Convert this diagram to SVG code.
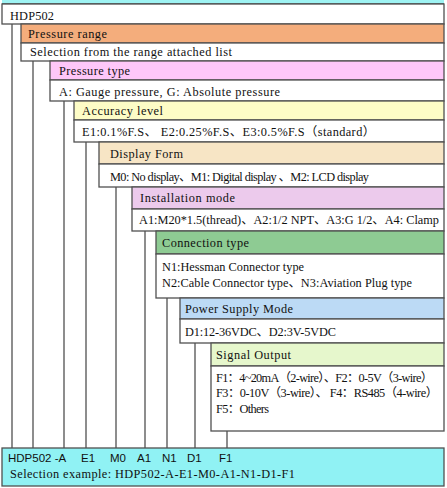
<svg xmlns="http://www.w3.org/2000/svg" width="447" height="488" viewBox="0 0 447 488">
<style>
.bx{stroke:#505050;stroke-width:1.3}
.w{fill:#ffffff}
.t{font-family:"Liberation Serif","Noto Sans CJK SC",serif;font-size:12.3px;fill:#111}
.s{font-family:"Liberation Sans",Arial,sans-serif;font-size:11.5px;fill:#111}
.ln{stroke:#505050;stroke-width:1.3;fill:none}
</style>
<rect x="0" y="0" width="447" height="488" fill="#ffffff"/>
<rect x="2" y="0" width="442" height="4" fill="#9ef3f3"/>
<line x1="2" y1="4" x2="444" y2="4" class="ln"/>

<g id="connectors">
<line class="ln" x1="12" y1="24" x2="12" y2="448"/>
<line class="ln" x1="33" y1="61" x2="33" y2="448"/>
<line class="ln" x1="64" y1="101" x2="64" y2="448"/>
<line class="ln" x1="86" y1="142" x2="86" y2="448"/>
<line class="ln" x1="116" y1="187" x2="116" y2="448"/>
<line class="ln" x1="145" y1="231" x2="145" y2="448"/>
<line class="ln" x1="167" y1="298" x2="167" y2="448"/>
<line class="ln" x1="195" y1="343" x2="195" y2="448"/>
<line class="ln" x1="227" y1="431" x2="227" y2="448"/>
</g>

<g id="model">
<rect class="bx w" x="2" y="4" width="442" height="20"/>
<text class="t" x="10" y="20" textLength="44" lengthAdjust="spacing">HDP502</text>
</g>

<g id="pressure-range">
<rect class="bx" fill="#f4ad7c" x="21" y="24" width="423" height="19"/>
<text class="t" x="28" y="38" textLength="79" lengthAdjust="spacing">Pressure range</text>
<rect class="bx w" x="21" y="43" width="423" height="18"/>
<text class="t" x="30" y="56" textLength="202" lengthAdjust="spacing">Selection from the range attached list</text>
</g>

<g id="pressure-type">
<rect class="bx" fill="#fec7f9" x="50" y="61" width="394" height="19"/>
<text class="t" x="59" y="75" textLength="71" lengthAdjust="spacing">Pressure type</text>
<rect class="bx w" x="50" y="80" width="394" height="21"/>
<text class="t" x="59" y="96" textLength="221" lengthAdjust="spacing">A: Gauge pressure, G: Absolute pressure</text>
</g>

<g id="accuracy">
<rect class="bx" fill="#fdfcc6" x="74" y="101" width="370" height="19"/>
<text class="t" x="82" y="115" textLength="81" lengthAdjust="spacing">Accuracy level</text>
<rect class="bx w" x="74" y="120" width="370" height="22"/>
<text class="t" x="82" y="136" textLength="293" lengthAdjust="spacing">E1:0.1%F.S、 E2:0.25%F.S、E3:0.5%F.S（standard）</text>
</g>

<g id="display">
<rect class="bx" fill="#f7e5c5" x="99" y="142" width="345" height="22"/>
<text class="t" x="110" y="158" textLength="73" lengthAdjust="spacing">Display Form</text>
<rect class="bx w" x="99" y="164" width="345" height="23"/>
<text class="t" x="110" y="181" textLength="259" lengthAdjust="spacing">M0: No display、M1: Digital display 、M2: LCD display</text>
</g>

<g id="installation">
<rect class="bx" fill="#eccaec" x="132" y="187" width="312" height="22"/>
<text class="t" x="140" y="202" textLength="95" lengthAdjust="spacing">Installation mode</text>
<rect class="bx w" x="132" y="209" width="312" height="22"/>
<text class="t" x="139" y="224" textLength="300" lengthAdjust="spacing">A1:M20*1.5(thread)、A2:1/2 NPT、A3:G 1/2、A4: Clamp</text>
</g>

<g id="connection">
<rect class="bx" fill="#8ecb93" x="156" y="231" width="288" height="23"/>
<text class="t" x="162" y="247" textLength="87" lengthAdjust="spacing">Connection type</text>
<rect class="bx w" x="156" y="254" width="288" height="44"/>
<text class="t" x="162" y="271" textLength="142" lengthAdjust="spacing">N1:Hessman Connector type</text>
<text class="t" x="162" y="287" textLength="250" lengthAdjust="spacing">N2:Cable Connector type、N3:Aviation Plug type</text>
</g>

<g id="power">
<rect class="bx" fill="#bcdaf5" x="180" y="298" width="264" height="21"/>
<text class="t" x="185" y="313" textLength="108" lengthAdjust="spacing">Power Supply Mode</text>
<rect class="bx w" x="180" y="319" width="264" height="24"/>
<text class="t" x="185" y="336" textLength="151" lengthAdjust="spacing">D1:12-36VDC、D2:3V-5VDC</text>
</g>

<g id="signal">
<rect class="bx" fill="#e6f7cc" x="211" y="343" width="233" height="23"/>
<text class="t" x="216" y="359" textLength="75" lengthAdjust="spacing">Signal Output</text>
<rect class="bx w" x="211" y="366" width="233" height="65"/>
<text class="t" x="216" y="382" textLength="217" lengthAdjust="spacing">F1：4~20mA（2-wire）、F2：0-5V（3-wire）</text>
<text class="t" x="216" y="397" textLength="222" lengthAdjust="spacing">F3：0-10V（3-wire）、 F4：RS485（4-wire）</text>
<text class="t" x="216" y="413" textLength="53" lengthAdjust="spacing">F5：Others</text>
</g>

<g id="example">
<rect class="bx" fill="#90f2f4" x="2" y="448" width="442" height="38"/>
<text class="s" x="8" y="462">HDP502 -A</text>
<text class="s" x="81" y="462">E1</text>
<text class="s" x="110" y="462">M0</text>
<text class="s" x="137" y="462">A1</text>
<text class="s" x="162" y="462">N1</text>
<text class="s" x="187" y="462">D1</text>
<text class="s" x="219" y="462">F1</text>
<text class="t" x="10" y="478" textLength="285" lengthAdjust="spacing">Selection example: HDP502-A-E1-M0-A1-N1-D1-F1</text>
</g>
</svg>
